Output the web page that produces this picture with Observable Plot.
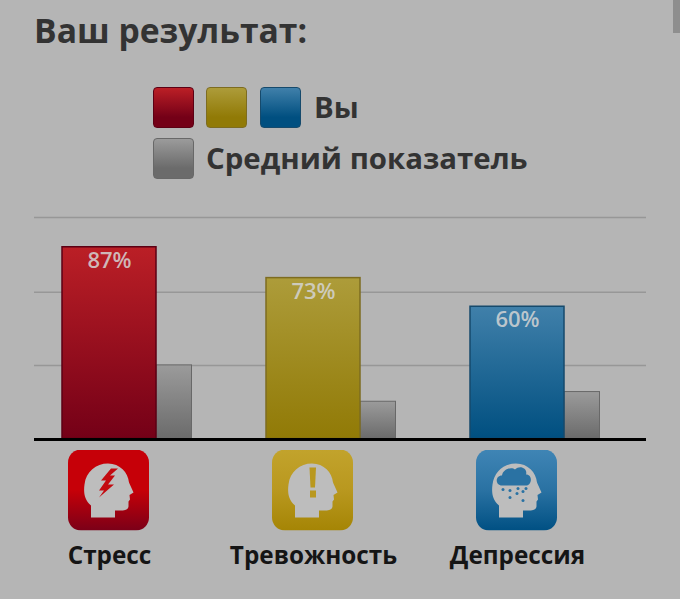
<!DOCTYPE html>
<html lang="ru">
<head>
<meta charset="utf-8">
<script src="https://cdn.jsdelivr.net/npm/d3@7"></script>
<script src="https://cdn.jsdelivr.net/npm/@observablehq/plot@0.6"></script>
<style>
html,body{margin:0;padding:0;background:#b5b5b5;overflow:hidden}
body{width:680px;height:599px;position:relative;font-family:"Open Sans",sans-serif;color:#333}
.t{position:absolute;font-weight:700;white-space:nowrap;line-height:1}
.sw{position:absolute;width:39px;height:39px;border-radius:4px;border:1px solid}
#chart{position:absolute;left:0;top:200px}
#scroll{position:absolute;left:673px;top:0;width:7px;height:33px;background:#8e8e8e}
</style>
</head>
<body>
<div class="t" id="title" style="left:34px;top:14px;font-size:33.700px"></div>
<div id="legend"></div>
<div id="chart"></div>
<div id="scroll"></div>
<script>
const titleText = "Ваш результат:";
const legendYou = "Вы";
const legendAverage = "Средний показатель";
const categories = ["Стресс", "Тревожность", "Депрессия"];
const youValues = [87, 73, 60];
const averageValues = [33.4, 16.9, 21.3];
const gridValues = [33.4, 66.6, 100.5];
const topColors = ["#bb1f26", "#ad9c3a", "#4080aa"];
const bottomColors = ["#740017", "#917a06", "#004f80"];
const strokeColors = ["#5c0014", "#7d6c20", "#164a6c"];
const greyTop = "#9b9b9b", greyBottom = "#6b6b6b", greyStroke = "#686868";

const rows = categories.map((category, i) => ({
  category, you: youValues[i], average: averageValues[i],
  fill: `url(#grad${i})`, stroke: strokeColors[i], label: `${youValues[i]}%`
}));

document.getElementById("title").textContent = titleText;
const legend = document.getElementById("legend");
function swatch(left, top, a, b, s) {
  const el = document.createElement("div");
  el.className = "sw";
  el.style.cssText = `left:${left}px;top:${top}px;border-color:${s};background:linear-gradient(${a},${b} 75%)`;
  legend.appendChild(el);
}
[153, 206, 260].forEach((x, i) => swatch(x, 87, topColors[i], bottomColors[i], strokeColors[i]));
swatch(153, 138, greyTop, greyBottom, greyStroke);
function legendLabel(text, left, top) {
  const el = document.createElement("div");
  el.className = "t";
  el.textContent = text;
  el.style.cssText = `left:${left}px;top:${top}px;font-size:29.400px`;
  legend.appendChild(el);
}
legendLabel(legendYou, 314, 93);
legendLabel(legendAverage, 206, 144);

const headPath = "M23 68V56C16 50 15.500 42 16.500 35C18 22 28 14 40 14C52 14 60 23 61 33L65.500 43L61.500 45.500L62 50L60.500 52L60.500 57C60 60.500 57 61 52 61H47V68Z";
const glyphs = [
  c => `<path d="M43 19L33 31L38 31L31 41L36 41L31 48L46 35L40 35L47 26L42 26L50 19Z" fill="${c}"/>`,
  c => `<path d="M37.500 18H44L43 38H38.500Z" fill="${c}"/><rect x="38" y="41" width="6" height="7" fill="${c}"/>`,
  c => `<path d="M26 36C19 36 19 26 26 26C27 19 36 17 39 20C44 15 52 19 50 25C57 25 56 36 50 36Z" fill="${c}"/>` +
       [[27,40],[34,41],[42,39],[50,39],[34,48],[41,44],[47,42],[47,51]].map(([x,y]) => `<circle cx="${x}" cy="${y}" r="1.500" fill="${c}"/>`).join("")
];
function icon(i) {
  const svg = `<svg xmlns="http://www.w3.org/2000/svg" width="81" height="81" viewBox="0 0 81 81"><defs><linearGradient id="g" x1="0" y1="0" x2="0" y2="1"><stop offset="0" stop-color="${["#c60008","#c2a32c","#3f85b5"][i]}"/><stop offset=".5" stop-color="${["#c60008","#b9981f","#2a72a3"][i]}"/><stop offset="1" stop-color="${["#7b0018","#a58505","#005083"][i]}"/></linearGradient></defs><rect width="81" height="81" rx="13" fill="url(#g)"/><path d="${headPath}" fill="#bdbdbd"/>${glyphs[i](["#c30a10","#b9981f","#2a72a3"][i])}</svg>`;
  return "data:image/svg+xml;charset=utf-8," + encodeURIComponent(svg);
}

const gradient = (id, a, b) => `<linearGradient id="${id}" x1="0" y1="0" x2="0" y2="1"><stop offset="0" stop-color="${a}"/><stop offset="1" stop-color="${b}"/></linearGradient>`;
const defs = () => {
  const el = document.createElementNS("http://www.w3.org/2000/svg", "defs");
  el.innerHTML = categories.map((_, i) => gradient(`grad${i}`, topColors[i], bottomColors[i])).join("") + gradient("gradGrey", greyTop, greyBottom);
  return el;
};

const plot = Plot.plot({
  width: 680, height: 399,
  marginLeft: 34, marginRight: 34, marginTop: 17, marginBottom: 160.5,
  style: {background: "transparent", fontFamily: "'Open Sans',sans-serif"},
  x: {type: "band", domain: categories, padding: 0, label: null},
  y: {domain: [0, 100.5], axis: null, label: null},
  marks: [
    defs,
    Plot.ruleY(gridValues, {stroke: "#979797", strokeWidth: 1.500}),
    Plot.barY(rows, {x: "category", y: "average", fill: "url(#gradGrey)", stroke: greyStroke, strokeWidth: 1, insetLeft: 122, insetRight: 46.500}),
    Plot.barY(rows, {x: "category", y: "you", fill: {value: "fill", scale: null}, stroke: {value: "stroke", scale: null}, strokeWidth: 1.500, insetLeft: 28, insetRight: 82}),
    Plot.ruleY([0], {stroke: "#000", strokeWidth: 2.800, dy: 0.5}),
    Plot.text(rows, {x: "category", y: "you", text: "label", lineAnchor: "top", dx: -27, dy: 5, fontSize: 22, fontWeight: 600, fill: "#d4d4d4", fillOpacity: 0.85}),
    Plot.image(rows, {x: "category", frameAnchor: "bottom", dx: -28, dy: 51, width: 81, height: 81, src: (d, i) => icon(i)}),
    Plot.axisX({tickSize: 0, tickPadding: 0, dx: -27, dy: 108, fontSize: 24.300, fontWeight: 700, fill: "#151515", lineAnchor: "top", label: null})
  ]
});
document.getElementById("chart").appendChild(plot);
</script>
</body>
</html>
